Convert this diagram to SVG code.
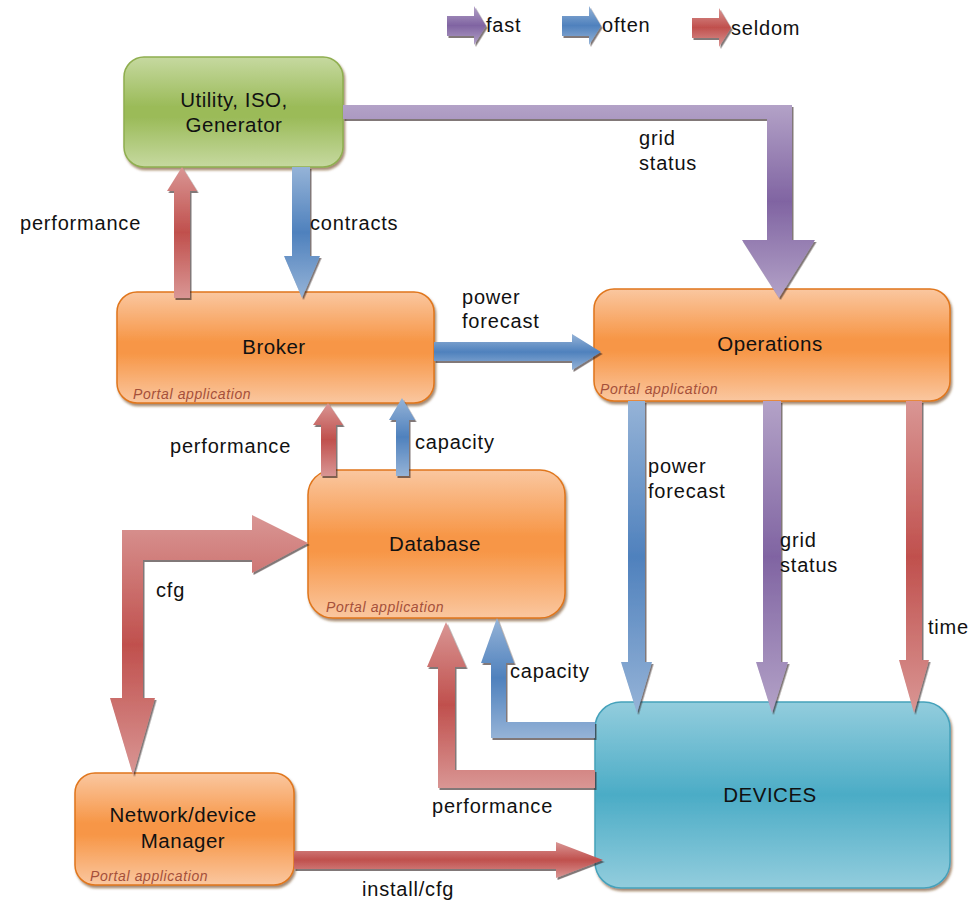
<svg xmlns="http://www.w3.org/2000/svg" width="974" height="901" viewBox="0 0 974 901">
<defs>
  <linearGradient id="gOrange" x1="0" y1="0" x2="0" y2="1">
    <stop offset="0" stop-color="#fac7a0"/>
    <stop offset="0.45" stop-color="#f79646"/>
    <stop offset="0.55" stop-color="#f79646"/>
    <stop offset="1" stop-color="#fac7a0"/>
  </linearGradient>
  <linearGradient id="gGreen" x1="0" y1="0" x2="0" y2="1">
    <stop offset="0" stop-color="#c6d9a0"/>
    <stop offset="0.45" stop-color="#9bbb59"/>
    <stop offset="0.55" stop-color="#9bbb59"/>
    <stop offset="1" stop-color="#c6d9a0"/>
  </linearGradient>
  <linearGradient id="gBlue" x1="0" y1="0" x2="0" y2="1">
    <stop offset="0" stop-color="#93cddd"/>
    <stop offset="0.5" stop-color="#4bacc6"/>
    <stop offset="1" stop-color="#93cddd"/>
  </linearGradient>
  <linearGradient id="aRed" x1="0" y1="0" x2="0" y2="1">
    <stop offset="0" stop-color="#d99694"/>
    <stop offset="0.5" stop-color="#c0504d"/>
    <stop offset="1" stop-color="#d99694"/>
  </linearGradient>
  <linearGradient id="aBlue" x1="0" y1="0" x2="0" y2="1">
    <stop offset="0" stop-color="#95b3d7"/>
    <stop offset="0.5" stop-color="#4f81bd"/>
    <stop offset="1" stop-color="#95b3d7"/>
  </linearGradient>
  <linearGradient id="aPurple" x1="0" y1="0" x2="0" y2="1">
    <stop offset="0" stop-color="#b3a2c7"/>
    <stop offset="0.5" stop-color="#8064a2"/>
    <stop offset="1" stop-color="#b3a2c7"/>
  </linearGradient>
  <filter id="shN" x="-5%" y="-5%" width="112%" height="115%">
    <feDropShadow dx="1.5" dy="2.5" stdDeviation="1" flood-color="#6b3a10" flood-opacity="0.6"/>
  </filter>
  <filter id="shA" x="-10%" y="-10%" width="130%" height="130%">
    <feDropShadow dx="1.5" dy="2" stdDeviation="0.7" flood-color="#2a1a1a" flood-opacity="0.6"/>
  </filter>
  <style>
    text { font-family: "Liberation Sans", Arial, sans-serif; fill: #111; }
    .lbl { font-size: 20px; letter-spacing: 0.8px; }
    .nl { font-size: 20.5px; text-anchor: middle; letter-spacing: 0.5px; }
    .portal { font-size: 14px; font-style: italic; fill: #a5503a; letter-spacing: 0.6px; }
    .orange { fill: url(#gOrange); stroke: #e0761c; stroke-width: 1.5; filter: url(#shN); }
    .green { fill: url(#gGreen); stroke: #8fae4f; stroke-width: 1.5; filter: url(#shN); }
    .dev { fill: url(#gBlue); stroke: #45a2bb; stroke-width: 1.5; filter: url(#shN); }
    .red { fill: url(#aRed); filter: url(#shA); }
    .blue { fill: url(#aBlue); filter: url(#shA); }
    .purple { fill: url(#aPurple); filter: url(#shA); }
  </style>
</defs>

<g id="legend">
  <polygon class="purple" points="447,16 474,16 474,6 486,26 474,45 474,36 447,36"/>
  <text class="lbl" x="486" y="32">fast</text>
  <polygon class="blue" points="562,16 589,16 589,6 601,26 589,45 589,36 562,36"/>
  <text class="lbl" x="602" y="32">often</text>
  <polygon class="red" points="692,18 719,18 719,8 731,28 719,47 719,38 692,38"/>
  <text class="lbl" x="731" y="35">seldom</text>
</g>

<g id="utility">
  <rect class="green" x="124" y="57" width="219" height="110" rx="20"/>
  <text class="nl" x="234" y="107">Utility, ISO,</text>
  <text class="nl" x="234" y="132">Generator</text>
</g>

<g id="broker">
  <rect class="orange" x="117" y="292" width="317" height="111" rx="20"/>
  <text class="nl" x="274" y="354">Broker</text>
  <text class="portal" x="133" y="399">Portal application</text>
</g>

<g id="operations">
  <rect class="orange" x="594" y="289" width="356" height="112" rx="20"/>
  <text class="nl" x="770" y="351">Operations</text>
  <text class="portal" x="600" y="394">Portal application</text>
</g>

<g id="database">
  <rect class="orange" x="308" y="470" width="257" height="148" rx="25"/>
  <text class="nl" x="435" y="551">Database</text>
  <text class="portal" x="326" y="612">Portal application</text>
</g>

<g id="devices">
  <rect class="dev" x="595" y="702" width="355" height="186" rx="26"/>
  <text class="nl" x="770" y="802">DEVICES</text>
</g>

<g id="manager">
  <rect class="orange" x="75" y="773" width="219" height="112" rx="20"/>
  <text class="nl" x="183" y="822">Network/device</text>
  <text class="nl" x="183" y="848">Manager</text>
  <text class="portal" x="90" y="881">Portal application</text>
</g>

<g id="connectors">
  <polygon class="purple" points="343,105 792,105 792,240 815,240 779,298 742,240 767,240 767,119 343,119"/>
  <polygon class="blue" points="292,167 310,167 310,256 320,256 302,298 284,256 292,256"/>
  <polygon class="red" points="174,298 190,298 190,191 197,191 182,167 167,191 174,191"/>
  <polygon class="blue" points="434,342 572,342 572,334 601,352 572,370 572,361 434,361"/>
  <polygon class="red" points="321,476 336,476 336,425 343,425 328,403 313,425 321,425"/>
  <polygon class="blue" points="396,476 409,476 409,420 415,420 402,398 389,420 396,420"/>
  <polygon class="red" points="308,543 252,515 252,530 122,530 122,698 110,698 133,775 155,698 143,698 143,560 252,560 252,573"/>
  <polygon class="blue" points="628,401 645,401 645,662 652,662 637,713 621,662 628,662"/>
  <polygon class="purple" points="763,401 781,401 781,662 788,662 772,713 756,662 763,662"/>
  <polygon class="red" points="906,401 922,401 922,660 929,660 914,713 899,660 906,660"/>
  <polygon class="blue" points="595,722 506,722 506,663 514,663 497,618 481,663 491,663 491,738 595,738"/>
  <polygon class="red" points="595,770 455,770 455,667 466,667 446,622 427,667 438,667 438,788 595,788"/>
  <polygon class="red" points="294,851 556,851 556,842 603,860 556,878 556,869 294,869"/>
</g>

<g id="labels">
  <text class="lbl" x="20" y="230">performance</text>
  <text class="lbl" x="310" y="230">contracts</text>
  <text class="lbl" x="639" y="145">grid</text>
  <text class="lbl" x="639" y="170">status</text>
  <text class="lbl" x="462" y="304">power</text>
  <text class="lbl" x="462" y="328">forecast</text>
  <text class="lbl" x="170" y="453">performance</text>
  <text class="lbl" x="415" y="449">capacity</text>
  <text class="lbl" x="648" y="473">power</text>
  <text class="lbl" x="648" y="498">forecast</text>
  <text class="lbl" x="780" y="547">grid</text>
  <text class="lbl" x="780" y="572">status</text>
  <text class="lbl" x="156" y="597">cfg</text>
  <text class="lbl" x="928" y="634">time</text>
  <text class="lbl" x="510" y="678">capacity</text>
  <text class="lbl" x="432" y="813">performance</text>
  <text class="lbl" x="362" y="896">install/cfg</text>
</g>
</svg>
